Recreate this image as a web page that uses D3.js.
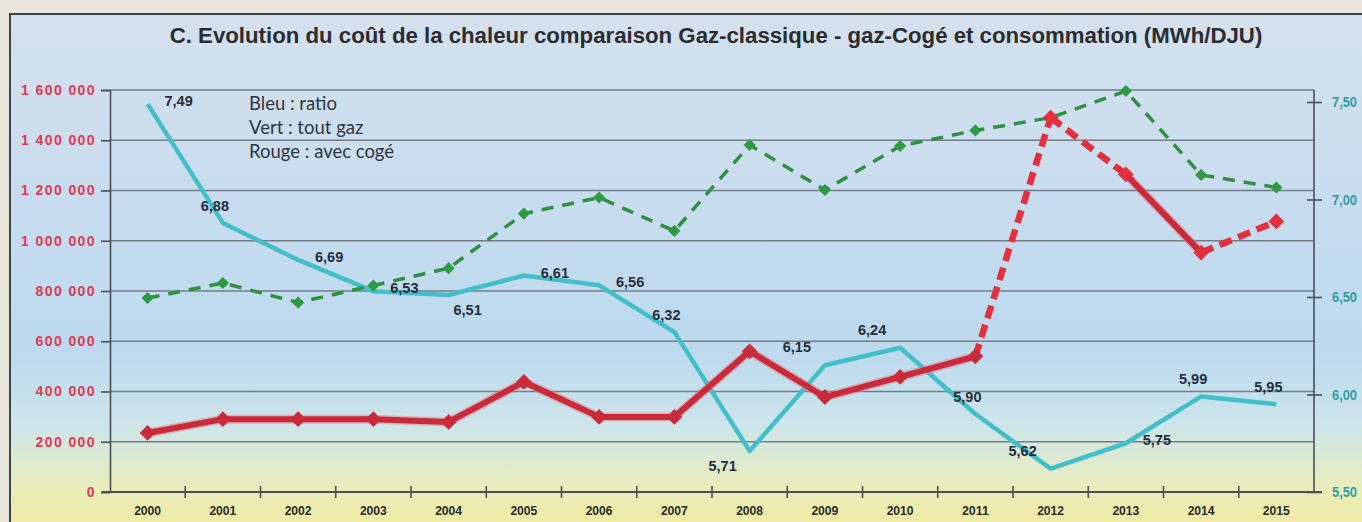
<!DOCTYPE html>
<html><head><meta charset="utf-8">
<script src="https://cdn.jsdelivr.net/npm/d3@7"></script>
<style>
body{margin:0;background:#e6e4d8;}
svg{display:block}
</style>
</head><body>
<svg id="chart" width="1362" height="522"></svg>
<script>
// ---------- data ----------
const years = ["2000","2001","2002","2003","2004","2005","2006","2007","2008","2009","2010","2011","2012","2013","2014","2015"];
// Bleu : ratio (MWh/DJU) - right axis
const ratio = [7.49,6.88,6.69,6.53,6.51,6.61,6.56,6.32,5.71,6.15,6.24,5.90,5.62,5.75,5.99,5.95];
// Vert : tout gaz - left axis
const toutGaz = [772000,832000,754000,822000,891000,1108000,1172000,1039000,1381000,1202000,1377000,1439000,1490000,1596000,1262000,1212000];
// Rouge : avec cogé - left axis
const avecCoge = [235000,290000,290000,290000,279000,438000,299000,299000,560000,378000,458000,540000,1490000,1264000,953000,1077000];
// segments of the red series drawn dashed (1) or solid (0), between year i and i+1
const avecCogeDashed = [0,0,0,0,0,0,0,0,0,0,0,1,1,0,1];
// ratio labels and their placement
const ratioLabels = ["7,49","6,88","6,69","6,53","6,51","6,61","6,56","6,32","5,71","6,15","6,24","5,90","5,62","5,75","5,99","5,95"];
const ratioLabelPlace = ["R","U","R","R","BR","R","R","U","BL","UL","UL","U","UL","R","U","U"];
const leftTicks = [0,200000,400000,600000,800000,1000000,1200000,1400000,1600000];
const rightTicks = [5.5,6.0,6.5,7.0,7.5];
const legendLines = ["Bleu : ratio","Vert : tout gaz","Rouge : avec cogé"];
const title = "C. Evolution du coût de la chaleur comparaison Gaz-classique - gaz-Cogé et consommation (MWh/DJU)";

// ---------- layout ----------
const W = 1362, H = 522;
const plot = {left:110, right:1314, top:90, bottom:492};
const svg = d3.select("#chart");

const defs = svg.append("defs");
const grad = defs.append("linearGradient").attr("id","bg").attr("x1",0).attr("y1",0).attr("x2",0).attr("y2",1);
[[0,"#d5e0ec"],[0.35,"#c8dcef"],[0.62,"#bcd9ee"],[0.76,"#cde5ea"],[0.87,"#e9edbd"],[1,"#f5e990"]]
  .forEach(([o,c]) => grad.append("stop").attr("offset",o).attr("stop-color",c));

// card
svg.append("rect").attr("x",0).attr("y",0).attr("width",W).attr("height",H).attr("fill","#e8e6da");
svg.append("rect").attr("x",10).attr("y",14).attr("width",W+20).attr("height",H+20)
  .attr("fill","url(#bg)").attr("stroke","#3b4552").attr("stroke-width",2);

// scales
const x = d3.scaleBand().domain(years).range([plot.left, plot.right]).padding(0);
const cx = d => x(d) + x.bandwidth()/2;
const yL = d3.scaleLinear().domain([0,1600000]).range([plot.bottom, plot.top]);
const yR = d3.scaleLinear().domain([5.5,7.5]).range([plot.bottom, 102]);

const loc = d3.formatLocale({decimal:",", thousands:" ", grouping:[3], currency:["","€"]});
const fmtL = loc.format(",d");
const fmtR = loc.format(".2f");

// gridlines
svg.append("g").selectAll("line").data(leftTicks.filter(d=>d>0)).join("line")
  .attr("x1",plot.left).attr("x2",plot.right)
  .attr("y1",d=>yL(d)).attr("y2",d=>yL(d))
  .attr("stroke","#767d87").attr("stroke-width",1.6);

// left axis
const axL = svg.append("g").attr("transform",`translate(${plot.left},0)`)
  .call(d3.axisLeft(yL).tickValues(leftTicks).tickFormat(fmtL).tickSize(9).tickPadding(5));
axL.select(".domain").attr("stroke","#4a4f58").attr("stroke-width",1.6);
axL.selectAll(".tick line").attr("stroke","#4a4f58").attr("stroke-width",1.6);
axL.selectAll("text").attr("fill","#de3a55").attr("font-family","'Liberation Sans', Arial, sans-serif")
  .attr("font-weight","bold").attr("font-size",14).attr("letter-spacing","1.4px");

// right axis
const axR = svg.append("g").attr("transform",`translate(${plot.right},0)`)
  .call(d3.axisRight(yR).tickValues(rightTicks).tickFormat(fmtR).tickSize(8).tickPadding(10));
axR.select(".domain").attr("stroke","#4a4f58").attr("stroke-width",1.6)
  .attr("d",`M0,${plot.top}V${plot.bottom}`);
axR.selectAll(".tick line").attr("stroke","#4a4f58").attr("stroke-width",1.6).attr("x1",-7);
axR.selectAll("text").attr("fill","#2e9ea3").attr("font-family","'Liberation Sans', Arial, sans-serif")
  .attr("font-weight","bold").attr("font-size",15).attr("textLength",25).attr("lengthAdjust","spacingAndGlyphs");

// bottom axis
const axB = svg.append("g").attr("transform",`translate(0,${plot.bottom})`)
  .call(d3.axisBottom(x).tickSize(0).tickPadding(14));
axB.select(".domain").attr("stroke","#4a4f58").attr("stroke-width",1.8).attr("d",`M${plot.left-8},0H${plot.right+8}`);
axB.selectAll("text").attr("fill","#2a2a2a").attr("font-family","'Liberation Sans', Arial, sans-serif")
  .attr("font-weight","bold").attr("font-size",13).attr("textLength",27).attr("lengthAdjust","spacingAndGlyphs");
svg.append("g").selectAll("line").data(years.slice(1)).join("line")
  .attr("x1",d=>x(d)).attr("x2",d=>x(d)).attr("y1",plot.bottom-6).attr("y2",plot.bottom+6)
  .attr("stroke","#4a4f58").attr("stroke-width",1.6);

// blue ratio line
const lineR = d3.line().x((d,i)=>cx(years[i])).y(d=>yR(d));
svg.append("path").datum(ratio).attr("d",lineR).attr("fill","none")
  .attr("stroke","#42bfc9").attr("stroke-width",4.5).attr("stroke-linejoin","round");

// green tout gaz
const lineL = d3.line().x((d,i)=>cx(years[i])).y(d=>yL(d));
svg.append("path").datum(toutGaz).attr("d",lineL).attr("fill","none")
  .attr("stroke","#2f8f42").attr("stroke-width",3.5).attr("stroke-dasharray","12,9");
const square = d3.symbol().type(d3.symbolSquare);
svg.append("g").selectAll("path").data(toutGaz).join("path")
  .attr("transform",(d,i)=>`translate(${cx(years[i])},${yL(d)}) rotate(45)`)
  .attr("d",square.size(74)()).attr("fill","#2f9a44");

// red avec cogé - segments
const segs = avecCogeDashed.map((dash,i)=>({dash, a:[cx(years[i]),yL(avecCoge[i])], b:[cx(years[i+1]),yL(avecCoge[i+1])]}));
svg.append("g").selectAll("line").data(segs.filter(s=>!s.dash)).join("line")
  .attr("x1",d=>d.a[0]).attr("y1",d=>d.a[1]).attr("x2",d=>d.b[0]).attr("y2",d=>d.b[1])
  .attr("stroke","#e8707e").attr("stroke-opacity",0.45).attr("stroke-width",9).attr("stroke-linecap","round");
svg.append("g").selectAll("line").data(segs).join("line")
  .attr("x1",d=>d.a[0]).attr("y1",d=>d.a[1]).attr("x2",d=>d.b[0]).attr("y2",d=>d.b[1])
  .attr("stroke",d=>d.dash? "#e2303e":"#c92b3b").attr("stroke-width",d=>d.dash?6.5:6)
  .attr("stroke-linecap",d=>d.dash?"butt":"round")
  .attr("stroke-dasharray",d=>d.dash?"13,7":null);
svg.append("g").selectAll("path").data(avecCoge).join("path")
  .attr("transform",(d,i)=>`translate(${cx(years[i])},${yL(d)}) rotate(45)`)
  .attr("d",square.size(125)()).attr("fill",(d,i)=> i>=12 ? "#e2303e" : "#c92b3b");

// ratio data labels
const place = {R:[31,-3],U:[-8,-17],UL:[-28,-18],BR:[19,15],BL:[-27,15]};
svg.append("g").selectAll("text").data(ratio).join("text")
  .attr("x",(d,i)=>cx(years[i]) + place[ratioLabelPlace[i]][0])
  .attr("y",(d,i)=>yR(d) + place[ratioLabelPlace[i]][1])
  .attr("text-anchor","middle").attr("dominant-baseline","central")
  .attr("font-family","'Liberation Sans', Arial, sans-serif").attr("font-weight","bold")
  .attr("font-size",14.5).attr("fill","#262d3c")
  .text((d,i)=>ratioLabels[i]);

// legend text
svg.append("g").selectAll("text").data(legendLines).join("text")
  .attr("x",249).attr("y",(d,i)=>110+i*24)
  .attr("font-family","Lato, 'Open Sans', sans-serif").attr("font-size",18.5)
  .attr("fill","#2f3540").text(d=>d);

// title
const t = svg.append("text").attr("x",716).attr("y",43).attr("text-anchor","middle")
  .attr("font-family","'Liberation Sans', Arial, sans-serif").attr("font-weight","bold")
  .attr("font-size",18).attr("fill","#2a2c30").text(title);
const tw = t.node().getComputedTextLength();
t.attr("font-size", 18*1093/tw);
</script>
</body></html>
